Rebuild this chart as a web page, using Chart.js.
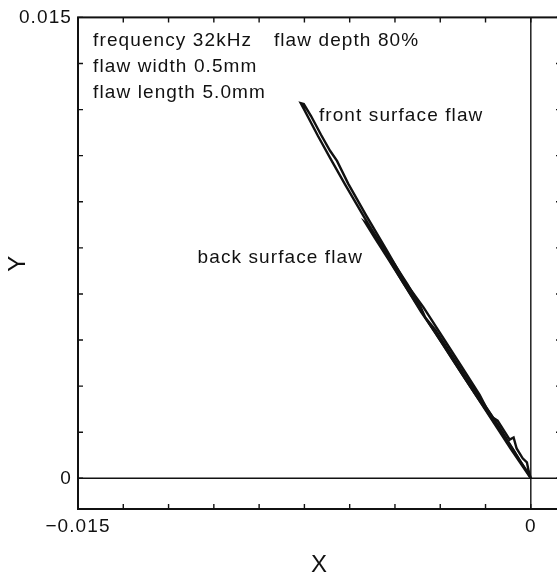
<!DOCTYPE html>
<html>
<head>
<meta charset="utf-8">
<script src="https://cdn.jsdelivr.net/npm/chart.js@4.4.1/dist/chart.umd.min.js"></script>
<style>
html,body{margin:0;padding:0;background:#fff;overflow:hidden}
#box{position:relative;width:600px;height:578px}
</style>
</head>
<body>
<div id="box"><canvas id="lissajous"></canvas></div>
<script>
// front surface flaw loop (out along one edge, back along the other)
const frontX=[0,-0.00017,-0.00037,-0.00057,-0.00086,-0.00136,-0.00196,-0.00263,-0.00316,-0.00363,-0.00422,-0.00489,-0.00555,-0.00615,-0.00665,-0.00705,-0.00738,-0.00762,
-0.00752,-0.00728,-0.00695,-0.00665,-0.00642,-0.00605,-0.00545,-0.00479,-0.00416,-0.00356,-0.00333,-0.00286,-0.00229,-0.00170,-0.00146,-0.00126,-0.00110,-0.00070,-0.00057,-0.00047,-0.00027,-0.00013,-0.00007,0];
const frontY=[0,0.00029,0.00058,0.00091,0.00133,0.00204,0.00292,0.00392,0.00473,0.00541,0.00635,0.00745,0.00855,0.00956,0.01043,0.01114,0.01176,0.01221,
0.01218,0.01179,0.01118,0.01066,0.01033,0.00959,0.00855,0.00745,0.00638,0.00557,0.00522,0.00450,0.00363,0.00272,0.00227,0.00198,0.00188,0.00126,0.00133,0.00097,0.00065,0.00052,0.00023,0];

// back surface flaw loop
const backX=[0,-0.00027,-0.00067,-0.00110,-0.00166,-0.00226,-0.00279,-0.00329,-0.00373,-0.00422,-0.00472,-0.00516,-0.00549,
-0.00539,-0.00502,-0.00456,-0.00409,-0.00366,-0.00349,-0.00316,-0.00269,-0.00213,-0.00156,-0.00103,-0.00057,-0.00020,0];
const backY=[0,0.00039,0.00097,0.00162,0.00246,0.00337,0.00418,0.00492,0.00560,0.00635,0.00713,0.00781,0.00833,
0.00826,0.00771,0.00703,0.00632,0.00560,0.00522,0.00483,0.00411,0.00327,0.00243,0.00165,0.00091,0.00032,0];

const xTicks=[-0.015,-0.0135,-0.012,-0.0105,-0.009,-0.0075,-0.006,-0.0045,-0.003,-0.0015,0];
const xTickLabels=["\u22120.015","","","","","","","","","","0"];
const yTicks=[0,0.0015,0.003,0.0045,0.006,0.0075,0.009,0.0105,0.012,0.0135,0.015];
const yTickLabels=["0","","","","","","","","","","0.015"];

const notes=[
{text:"frequency 32kHz",x:-0.0145,y:0.01406},
{text:"flaw depth 80%",x:-0.00851,y:0.01406},
{text:"flaw width 0.5mm",x:-0.0145,y:0.01322},
{text:"flaw length 5.0mm",x:-0.0145,y:0.01238},
{text:"front surface flaw",x:-0.00702,y:0.01163},
{text:"back surface flaw",x:-0.01104,y:0.0070}
];

const font="'Liberation Sans', Arial, sans-serif";
const pts=(xs,ys)=>xs.map((x,i)=>({x:x,y:ys[i]}));

const spacing={
id:"spacing",
beforeUpdate(chart){chart.ctx.letterSpacing="1.1px";},
beforeDraw(chart){chart.ctx.letterSpacing="1.1px";}
};

const frame={
id:"frame",
beforeDatasetsDraw(chart){
const ctx=chart.ctx,a=chart.chartArea,xs=chart.scales.x,ys=chart.scales.y;
ctx.save();
ctx.strokeStyle="#111";
ctx.lineWidth=1.4;
const x0=xs.getPixelForValue(0),y0=ys.getPixelForValue(0);
ctx.beginPath();
ctx.moveTo(a.left,y0);ctx.lineTo(a.right,y0);
ctx.moveTo(x0,a.top);ctx.lineTo(x0,a.bottom);
ctx.stroke();
ctx.restore();
},
afterDraw(chart){
const ctx=chart.ctx,a=chart.chartArea,xs=chart.scales.x,ys=chart.scales.y;
ctx.save();
ctx.strokeStyle="#111";
ctx.lineWidth=2;
ctx.strokeRect(a.left,a.top,a.right-a.left,a.bottom-a.top);
ctx.lineWidth=1.4;
ctx.beginPath();
xTicks.forEach(v=>{
const p=xs.getPixelForValue(v);
ctx.moveTo(p,a.bottom);ctx.lineTo(p,a.bottom-5);
ctx.moveTo(p,a.top);ctx.lineTo(p,a.top+5);
});
yTicks.forEach(v=>{
const p=ys.getPixelForValue(v);
ctx.moveTo(a.left,p);ctx.lineTo(a.left+5,p);
ctx.moveTo(a.right,p);ctx.lineTo(a.right-5,p);
});
ctx.stroke();
ctx.fillStyle="#111";
ctx.font="19px "+font;
ctx.letterSpacing="1.1px";
ctx.textBaseline="alphabetic";
ctx.textAlign="left";
notes.forEach(n=>{
ctx.fillText(n.text,xs.getPixelForValue(n.x),ys.getPixelForValue(n.y));
});
ctx.restore();
}
};

new Chart(document.getElementById("lissajous"),{
type:"scatter",
data:{
datasets:[
{label:"front surface flaw",data:pts(frontX,frontY)},
{label:"back surface flaw",data:pts(backX,backY)}
]
},
options:{
responsive:true,
maintainAspectRatio:false,
animation:false,
layout:{padding:{top:15,right:39,left:0,bottom:0}},
elements:{
line:{borderColor:"#111",borderWidth:2.4,tension:0,fill:false},
point:{radius:0,hoverRadius:0}
},
datasets:{scatter:{showLine:true}},
plugins:{
legend:{display:false},
tooltip:{enabled:false}
},
scales:{
x:{
type:"linear",
min:-0.015,
max:0.001,
afterBuildTicks:s=>{s.ticks=xTicks.map(v=>({value:v}));},
afterFit:s=>{s.height=69;},
grid:{display:false,drawTicks:false,tickLength:0},
border:{display:false},
ticks:{
color:"#111",
padding:6,
maxRotation:0,
autoSkip:false,
font:{family:font,size:19},
callback:(v,i)=>xTickLabels[i]
},
title:{
display:true,
text:"X",
color:"#111",
padding:{top:0,bottom:1},
font:{family:font,size:24,lineHeight:1}
}
},
y:{
type:"linear",
min:-0.001,
max:0.015,
afterBuildTicks:s=>{s.ticks=yTicks.map(v=>({value:v}));},
afterFit:s=>{s.width=78;},
grid:{display:false,drawTicks:false,tickLength:0},
border:{display:false},
ticks:{
color:"#111",
padding:6,
autoSkip:false,
font:{family:font,size:19},
callback:(v,i)=>yTickLabels[i]
},
title:{
display:true,
text:"Y",
color:"#111",
padding:{top:4,bottom:0},
font:{family:font,size:24}
}
}
}
},
plugins:[spacing,frame]
});
</script>
</body>
</html>
